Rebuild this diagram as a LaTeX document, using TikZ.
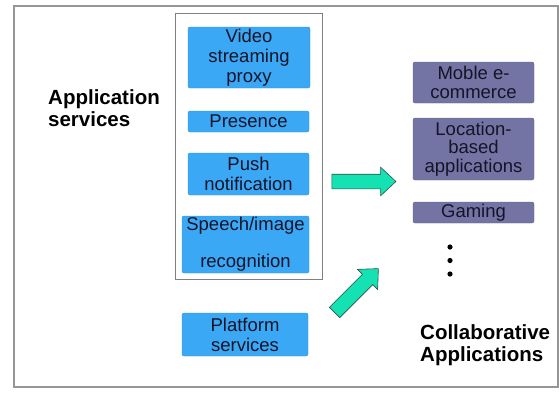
\documentclass[tikz,border=0pt]{standalone}
\usepackage{fontspec}
\setmainfont{Liberation Sans}
\usetikzlibrary{shapes.arrows, positioning}

\definecolor{servblue}{RGB}{59,168,245}
\definecolor{appviolet}{RGB}{116,116,164}
\definecolor{arrowfill}{RGB}{20,226,178}
\definecolor{arrowline}{RGB}{45,80,68}
\definecolor{framegray}{RGB}{150,150,150}
\definecolor{boxtext}{RGB}{20,20,40}

\tikzset{
    service/.style={fill=servblue, draw=servblue!85!black, line width=0.4pt, rounded corners=2pt,
        text=boxtext, align=center, inner sep=0pt, font=\fontsize{18.5}{20}\selectfont},
    collab/.style={fill=appviolet, draw=appviolet!85!black, line width=0.4pt, rounded corners=2pt,
        text=boxtext, align=center, inner sep=0pt, font=\fontsize{18.5}{18.5}\selectfont},
    title/.style={align=left, inner sep=0pt, font=\fontsize{20.5}{22}\selectfont\bfseries},
    fatarrow/.style={single arrow, draw=arrowline, fill=arrowfill, line width=0.6pt,
        inner sep=7pt, single arrow head extend=7pt, single arrow tip angle=86}
}

\begin{document}
\begin{tikzpicture}[x=1pt, y=-1pt]
                  \useasboundingbox (0,0) rectangle (559,392);

                  % draw outer frame and service group
                  \draw[framegray, line width=1.3pt] (14,6) rectangle (558,387);
                  \draw[gray, line width=0.9pt] (175,13) rectangle (322,279);

                  % application services
                  \node[service, minimum width=122pt, minimum height=61pt] (video) at (249,57.5) {Video\\streaming\\proxy};
                  \node[service, minimum width=121pt, minimum height=21pt] (presence) at (248.5,121.5) {Presence};
                  \node[service, minimum width=121pt, minimum height=42pt] (push) at (248.5,174) {Push\\notification};
                  \node[service, minimum width=127pt, minimum height=57pt] (speech) at (245.5,244.5) {Speech/image\\[17pt]recognition};
                  \node[service, minimum width=126pt, minimum height=43pt] (platform) at (245,334.5) {Platform\\services};

                  % collaborative applications
                  \node[collab, minimum width=121pt, minimum height=41pt] (mcommerce) at (473.5,82.5) {Moble e-\\commerce};
                  \node[collab, minimum width=121pt, minimum height=62pt] (location) at (473.5,149) {Location-\\based\\applications};
                  \node[collab, minimum width=121pt, minimum height=21pt] (gaming) at (473.5,212.5) {Gaming};

                  % more applications
                  \foreach \y in {247,260.5,274}
                  \fill (450,\y) circle (2.6pt);

                  % titles
                  \node[title, anchor=west] (apptitle) at (48,108) {Application\\services};
                  \node[title, anchor=west] (collabtitle) at (420,345) {Collaborative\\Applications};

                  % block arrows
                  \node[fatarrow, minimum height=64pt] (servarrow) at (360,181.5) {};
                  \node[fatarrow, minimum height=62pt, rotate=45] (platarrow) at (353.7,293.3) {};

              \end{tikzpicture}
\end{document}
